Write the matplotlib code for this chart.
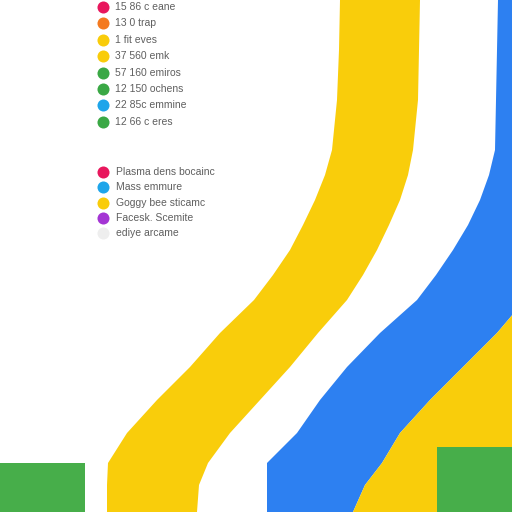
import numpy as np
import matplotlib
matplotlib.use('Agg')
import matplotlib.pyplot as plt

# ---------------------------- данные ----------------------------

# уровни (снизу вверх) и ширины полос на каждом уровне
levels = [512, 462, 412, 362, 337, 312, 287, 262, 237, 212, 179, 145, 112,
          79, 49, 27, 0]
offset = [340, 339, 337, 332, 325, 315, 303, 290, 273, 254, 220, 190, 157,
          127, 108, 107, 107]
yellow_a = [80, 80, 81, 81, 83, 85, 86, 87, 90, 93, 98, 100, 103,
            103, 100, 92, 90]
gap = [78, 78, 78, 82, 81, 80, 79, 76, 73, 70, 62, 57, 60,
       67, 59, 68, 70]
blue = [62, 63, 64, 65, 71, 80, 92, 107, 109, 108, 117, 116, 110,
        103, 115, 98, 86]

# столбики внизу
bar_x = [42.5, 474.5]
bar_h = [49, 65]
bar_w = [85, 75]

# легенды
top_labels = ['15 86 c eane', '13 0 trap', '1 fit eves', '37 560 emk',
              '57 160 emiros', '12 150 ochens', '22 85c emmine', '12 66 c eres']
top_colors = ['#e8175d', '#f47a20', '#f9cc0a', '#f9cc0a',
              '#3aa845', '#3aa845', '#1ea5ea', '#3aa845']
low_labels = ['Plasma dens bocainc', 'Mass emmure', 'Goggy bee sticamc',
              'Facesk. Scemite', 'ediye arcame']
low_colors = ['#e8175d', '#1ea5ea', '#f9cc0a', '#a435d4', '#eeeeee']

# ---------------------------- рисунок ----------------------------

fig = plt.figure(figsize=(5.12, 5.12), dpi=100)
ax = fig.add_axes([0, 0, 1, 1])
ax.set_xlim(0, 512)
ax.set_ylim(0, 512)
ax.axis('off')

yellow = '#f9cd0b'
blue_c = '#2d80f1'
green = '#47ae4a'

lv = np.array(levels)
b0 = np.array(offset)
b1 = b0 + np.array(yellow_a)
b2 = b1 + np.array(gap)
b3 = b2 + np.array(blue)

ax.fill_betweenx(lv, b0, b1, color=yellow, lw=0)
ax.fill_betweenx(lv, b2, b3, color=blue_c, lw=0)
ax.fill_betweenx(lv, b3, 700, color=yellow, lw=0)

ax.bar(bar_x, bar_h, width=bar_w, color=green, zorder=3)

# легенда сверху
for i, (lab, c) in enumerate(zip(top_labels, top_colors)):
    y = 505 - i * 16.4
    ax.scatter(103, y, s=75, color=c, zorder=4, lw=0)
    ax.text(115, y, lab, fontsize=7.5, color='#5f5f5f', va='center',
            family='Liberation Sans')

# легенда снизу
for i, (lab, c) in enumerate(zip(low_labels, low_colors)):
    y = 340 - i * 15.3
    ax.scatter(103, y, s=75, color=c, zorder=4, lw=0)
    ax.text(116, y, lab, fontsize=7.5, color='#5f5f5f', va='center',
            family='Liberation Sans')

fig.savefig('out.png', dpi=100)
